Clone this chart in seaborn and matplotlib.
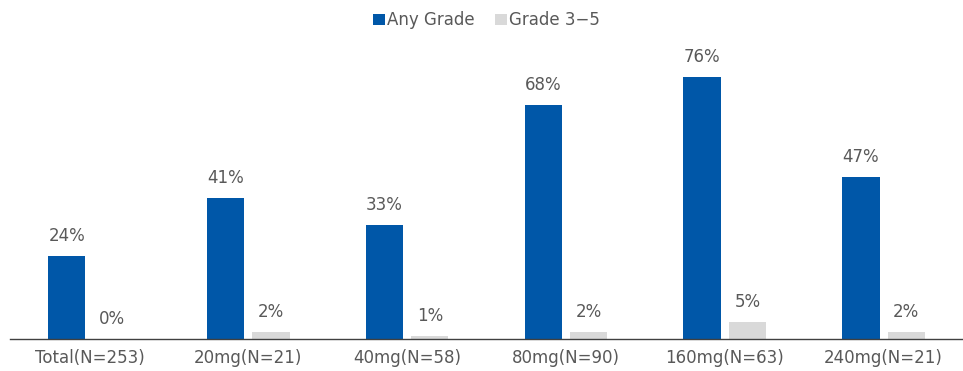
import matplotlib
matplotlib.use("Agg")
import matplotlib.pyplot as plt
import seaborn as sns
import pandas as pd

# Incidence by dose cohort
categories = ["Total(N=253)", "20mg(N=21)", "40mg(N=58)", "80mg(N=90)", "160mg(N=63)", "240mg(N=21)"]
any_grade = [24, 41, 33, 68, 76, 47]
grade_3_5 = [0, 2, 1, 2, 5, 2]
series_names = ["Any Grade", "Grade 3\u22125"]
colors = ["#0057A8", "#D9D9D9"]

df = pd.DataFrame({
    "category": categories * 2,
    "value": any_grade + grade_3_5,
    "series": [series_names[0]] * len(categories) + [series_names[1]] * len(categories),
})

sns.set_theme(style="white")
plt.rcParams["font.family"] = ["DejaVu Sans"]
text_color = "#595959"

fig = plt.figure(figsize=(9.63, 3.71), dpi=100)
ax = fig.add_axes([10 / 963, 32 / 371, 953 / 963, 310 / 371])

sns.barplot(data=df, x="category", y="value", hue="series", order=categories,
            hue_order=series_names, palette=colors, width=0.571, gap=0.174,
            saturation=1, linewidth=0, ax=ax)

ax.set_ylim(0, 90)
ax.set_xlim(-0.5, len(categories) - 0.5)
ax.set_xlabel("")
ax.set_ylabel("")
ax.set_yticks([])
ax.tick_params(axis="x", length=0, pad=7, labelsize=12, labelcolor=text_color)
for side in ["top", "left", "right"]:
    ax.spines[side].set_visible(False)
ax.spines["bottom"].set_color("#404040")
ax.spines["bottom"].set_linewidth(1.0)

for container in ax.containers:
    for bar in container:
        h = bar.get_height()
        ax.annotate(f"{h:.0f}%", (bar.get_x() + bar.get_width() / 2, h),
                    xytext=(0, 10.8), textcoords="offset points",
                    ha="center", va="baseline", fontsize=12, color=text_color)

sns.move_legend(ax, "upper center", bbox_to_anchor=(0.5, 1.105), ncol=2, frameon=False,
                title=None, handlelength=0.7, handleheight=0.7, handletextpad=0.15,
                columnspacing=1.2, fontsize=12, labelcolor=text_color)

fig.savefig("out.png", dpi=100)
